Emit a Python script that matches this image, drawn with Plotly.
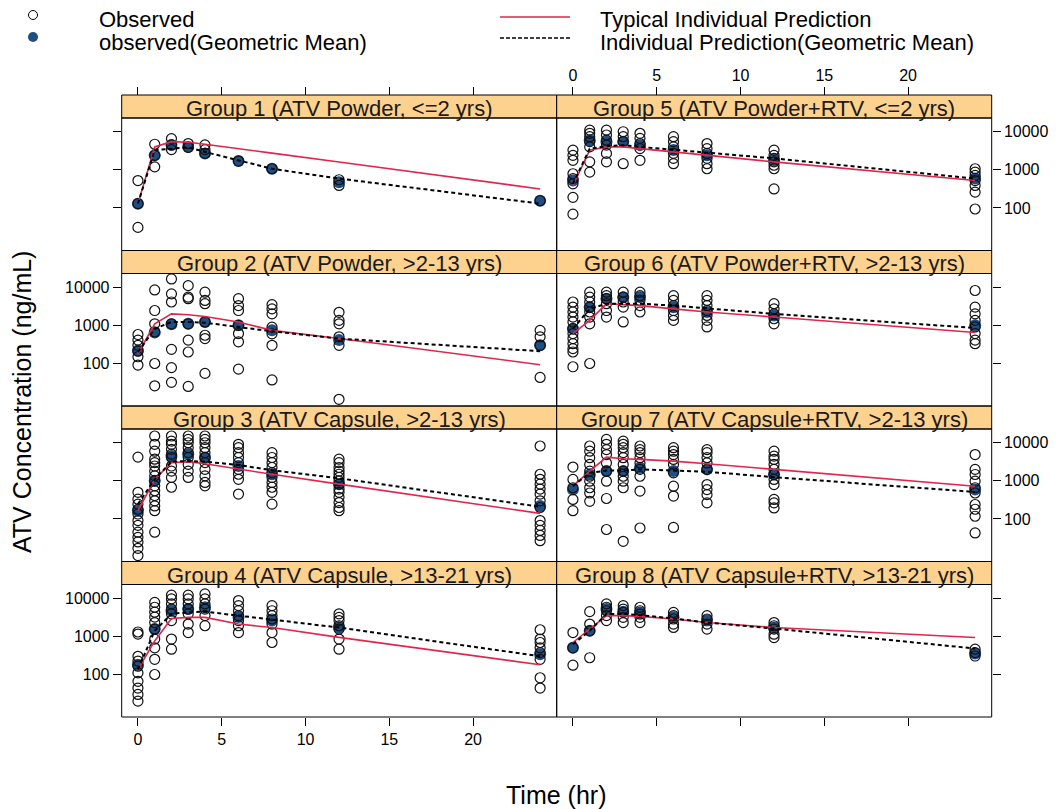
import plotly.graph_objects as go

W, H = 1062, 809
FONT = "Liberation Sans, Arial, sans-serif"

TIME = [0, 1, 2, 3, 4, 6, 8, 12, 24]
X_TICKS = [0, 5, 10, 15, 20]
Y_TICKS = [100, 1000, 10000]
Y_TICK_TEXT = ["100", "1000", "10000"]

TITLES = [
    "Group 1 (ATV Powder, <=2 yrs)",
    "Group 2 (ATV Powder, >2-13 yrs)",
    "Group 3 (ATV Capsule, >2-13 yrs)",
    "Group 4 (ATV Capsule, >13-21 yrs)",
    "Group 5 (ATV Powder+RTV, <=2 yrs)",
    "Group 6 (ATV Powder+RTV, >2-13 yrs)",
    "Group 7 (ATV Capsule+RTV, >2-13 yrs)",
    "Group 8 (ATV Capsule+RTV, >13-21 yrs)",
]

# Observed concentrations (ng/mL), one list per time point
OBS_G1 = [[525, 130, 31], [4700, 2400, 1200], [6600, 4500, 3400], [4900, 3900],
          [4500, 3400, 2700], [1700], [1070], [550, 390], [155]]
OBS_G2 = [[575, 410, 300, 210, 150, 91], [8500, 2450, 1100, 670, 100, 26],
          [16500, 6700, 4100, 1100, 235, 78, 32], [11000, 5500, 5000, 1100, 410, 200, 25],
          [7400, 4500, 3700, 1230, 550, 450, 55], [5000, 3300, 2450, 1000, 610, 370, 71],
          [3500, 2700, 2000, 900, 600, 300, 37], [2200, 1350, 1100, 500, 300, 11.5],
          [740, 500, 300, 43]]
OBS_G3 = [[4200, 500, 330, 245, 180, 135, 91, 68, 45, 33, 25, 17, 11],
          [15000, 9100, 6000, 3700, 3000, 2450, 1800, 1350, 1000, 740, 550, 410, 300, 220, 165, 45],
          [15000, 11000, 9100, 6700, 5000, 4100, 2450, 1800, 1230, 680],
          [15000, 12200, 10000, 7400, 5500, 4100, 2700, 1800, 1230],
          [15000, 12200, 10000, 7400, 5500, 4100, 3000, 2000, 1350, 910, 740],
          [9100, 7400, 5500, 4100, 3000, 2000, 1490, 1100, 450],
          [5500, 4100, 3000, 2240, 1650, 1230, 910, 680, 500, 245],
          [3700, 3000, 2240, 1800, 1490, 1230, 1000, 820, 610, 500, 370, 270, 200, 165],
          [8200, 1490, 1100, 820, 610, 450, 300, 200, 91, 68, 50, 37, 27]]
OBS_G4 = [[1300, 1150, 300, 225, 165, 110, 66, 44, 30, 20],
          [7800, 5800, 4300, 3200, 2300, 1550, 850, 500, 250, 100],
          [12000, 9600, 7100, 5200, 3900, 2600, 850, 460],
          [12000, 9600, 7100, 5200, 3900, 2100, 1260],
          [13000, 9600, 7100, 5200, 3500, 1900],
          [8700, 6400, 4700, 3500, 2600, 1900, 1260],
          [6400, 4700, 3500, 2850, 2100, 1260, 690],
          [3900, 3150, 2600, 1900, 1550, 850, 460],
          [1490, 850, 690, 500, 375, 250, 82, 44]]
OBS_G5 = [[3300, 2400, 1780, 790, 590, 430, 190, 69],
          [11000, 9100, 7400, 5500, 4000, 1620, 870],
          [11000, 8200, 6000, 4450, 2700, 1620],
          [10000, 7400, 5500, 1450],
          [9100, 6700, 4900, 3600, 1780],
          [7400, 5500, 4000, 2700, 2000, 1450],
          [4900, 3600, 2700, 2000, 1450, 1070],
          [3300, 2400, 2000, 1620, 1320, 1070, 316],
          [1070, 870, 715, 525, 390, 260, 94]]
OBS_G6 = [[4100, 3000, 2240, 1650, 1230, 820, 610, 450, 330, 245, 200, 82],
          [7400, 5500, 4100, 3000, 2240, 1650, 1100, 100],
          [7400, 6000, 5000, 3700, 2450, 1650],
          [7400, 5500, 4100, 3000, 1230],
          [7400, 6000, 4500, 3300, 2240],
          [6000, 4500, 3300, 2450, 1820, 1350],
          [6000, 4500, 3300, 2450, 1820, 1350, 910],
          [3700, 2700, 2000, 1490, 1100],
          [8200, 3000, 2000, 1350, 910, 610, 410, 330]]
OBS_G7 = [[2300, 1090, 660, 325, 165],
          [8200, 6000, 4050, 2700, 1800, 1320, 980, 660, 480, 290],
          [12200, 9100, 6600, 4900, 2950, 1800, 980, 345, 53],
          [11000, 9100, 7400, 5500, 4050, 2700, 1800, 1320, 980, 660, 26],
          [8200, 6600, 5500, 4050, 2950, 2000, 1320, 540, 58],
          [7400, 6000, 4900, 3650, 2700, 1620, 725, 400, 60],
          [6600, 5500, 4050, 2950, 2000, 800, 590, 435, 265],
          [6000, 4450, 3650, 2700, 2000, 1470, 1090, 800, 325, 265, 195],
          [4900, 2000, 1470, 980, 660, 480, 240, 180, 118, 43]]
OBS_G8 = [[1260, 500, 175], [4450, 2100, 1400, 275],
          [7100, 5800, 4700, 3500, 2600], [6400, 5200, 4250, 3150, 2300],
          [5800, 4700, 3850, 3150, 2300], [4250, 3500, 2850, 2100, 1710],
          [3500, 2850, 2100, 1550], [2300, 1900, 1550, 1140, 930], [460, 375, 305]]

# Observed geometric means
GEO_G1 = [130, 2400, 4500, 4000, 2700, 1700, 1070, 470, 155]
GEO_G2 = [220, 650, 1070, 1100, 1230, 1000, 740, 410, 300]
GEO_G3 = [165, 1000, 4500, 5000, 4100, 2450, 1490, 820, 220]
GEO_G4 = [180, 1550, 4700, 5200, 5800, 3200, 2600, 1700, 340]
GEO_G5 = [525, 6000, 5500, 5500, 4450, 3300, 2400, 1780, 590]
GEO_G6 = [820, 3000, 5000, 5500, 5500, 3000, 2240, 1820, 1000]
GEO_G7 = [590, 1470, 1800, 1800, 2200, 1800, 2000, 1470, 590]
GEO_G8 = [500, 1400, 5200, 4450, 4250, 3150, 2600, 1710, 355]

# Typical individual prediction
TYP_G1 = [130, 4000, 5500, 5300, 4700, 3550, 2750, 1600, 316]
TYP_G2 = [180, 1100, 2000, 1900, 1700, 1230, 740, 450, 93]
TYP_G3 = [165, 1100, 3000, 3200, 2800, 2000, 1490, 820, 140]
TYP_G4 = [135, 760, 2950, 3150, 3150, 2100, 1700, 940, 180]
TYP_G5 = [390, 3300, 4000, 4000, 3600, 2950, 2400, 1620, 525]
TYP_G6 = [610, 1350, 3700, 3450, 3300, 2700, 2240, 1650, 650]
TYP_G7 = [725, 1800, 4200, 3800, 3650, 3300, 2800, 2000, 725]
TYP_G8 = [690, 1550, 3500, 3500, 3350, 2850, 2300, 1710, 930]

# Individual prediction (geometric mean)
IPR_G1 = [130, 3300, 3600, 3900, 2950, 1780, 1070, 590, 130]
IPR_G2 = [200, 810, 1230, 1230, 1170, 910, 700, 450, 210]
IPR_G3 = [245, 1100, 3200, 3300, 3200, 2600, 1900, 1170, 210]
IPR_G4 = [135, 1400, 3900, 4300, 4450, 3500, 2850, 1700, 300]
IPR_G5 = [430, 3600, 4150, 4450, 4000, 3400, 2800, 2000, 590]
IPR_G6 = [820, 2700, 3700, 3700, 3700, 3300, 2830, 2000, 850]
IPR_G7 = [725, 1620, 1860, 1860, 2000, 1860, 1730, 1250, 510]
IPR_G8 = [620, 1400, 3850, 3850, 3600, 2950, 2300, 1600, 480]

OBS = [OBS_G1, OBS_G2, OBS_G3, OBS_G4, OBS_G5, OBS_G6, OBS_G7, OBS_G8]
GEO = [GEO_G1, GEO_G2, GEO_G3, GEO_G4, GEO_G5, GEO_G6, GEO_G7, GEO_G8]
TYP = [TYP_G1, TYP_G2, TYP_G3, TYP_G4, TYP_G5, TYP_G6, TYP_G7, TYP_G8]
IPR = [IPR_G1, IPR_G2, IPR_G3, IPR_G4, IPR_G5, IPR_G6, IPR_G7, IPR_G8]

# ---- styling / geometry ----
STRIP_FILL = "#FDD18E"
BLUE = "#1F4E85"
RED = "#E0264A"
COL_X = [(121.7, 556.7), (556.7, 991.7)]
ROW_TOP = [95.0, 250.5, 406.0, 561.5]
BLOCK = 155.5
STRIP = 23.0
X_RANGE = [-0.97, 24.99]
Y_RANGE = [0.885, 4.36]


def px(x):
    return x / W


def py(y):
    return 1 - y / H


fig = go.Figure()
layout = dict(
    width=W, height=H, margin=dict(l=0, r=0, t=0, b=0),
    paper_bgcolor="white", plot_bgcolor="white", showlegend=False,
    font=dict(family=FONT, color="black"),
)
shapes = []
annotations = []

for g in range(8):
    k = g + 1
    col, row = g // 4, g % 4
    x0, x1 = COL_X[col]
    st = ROW_TOP[row]
    p_top = st + STRIP
    p_bot = st + BLOCK
    xa = "x" if k == 1 else f"x{k}"
    ya = "y" if k == 1 else f"y{k}"

    xs, ys = [], []
    for t, vals in zip(TIME, OBS[g]):
        for v in vals:
            xs.append(t)
            ys.append(v)

    fig.add_trace(go.Scatter(x=TIME, y=GEO[g], mode="markers", xaxis=xa, yaxis=ya,
                             marker=dict(symbol="circle", size=12, color=BLUE,
                                         line=dict(width=0)), cliponaxis=False))
    fig.add_trace(go.Scatter(x=xs, y=ys, mode="markers", xaxis=xa, yaxis=ya,
                             marker=dict(symbol="circle-open", size=10, color="#111111",
                                         line=dict(width=1.2)), cliponaxis=False))
    fig.add_trace(go.Scatter(x=TIME, y=TYP[g], mode="lines", xaxis=xa, yaxis=ya,
                             line=dict(color=RED, width=1.6)))
    fig.add_trace(go.Scatter(x=TIME, y=IPR[g], mode="lines", xaxis=xa, yaxis=ya,
                             line=dict(color="black", width=2, dash="4px,3px")))

    xkey = "xaxis" if k == 1 else f"xaxis{k}"
    ykey = "yaxis" if k == 1 else f"yaxis{k}"
    xax = dict(domain=[px(x0), px(x1)], range=X_RANGE, anchor=ya,
               tickvals=X_TICKS, showgrid=False, zeroline=False, showline=False,
               tickfont=dict(size=16, family=FONT, color="black"),
               ticklen=8, tickcolor="black", tickwidth=1)
    if row == 3:
        xax.update(side="bottom", ticks="outside", showticklabels=(col == 0))
    elif row == 0:
        xax.update(side="top", ticks="outside", showticklabels=(col == 1),
                   anchor="free", position=py(st))
    else:
        xax.update(ticks="", showticklabels=False)
    layout[xkey] = xax

    yax = dict(domain=[py(p_bot), py(p_top)], type="log", range=Y_RANGE, anchor=xa,
               tickvals=Y_TICKS, ticktext=Y_TICK_TEXT, showgrid=False, zeroline=False,
               showline=False, ticks="outside", ticklen=8, tickcolor="black", tickwidth=1,
               tickfont=dict(size=16, family=FONT, color="black"),
               side="left" if col == 0 else "right")
    if col == 0:
        yax["showticklabels"] = row in (1, 3)
    else:
        yax["showticklabels"] = row in (0, 2)
    layout[ykey] = yax

    # panel frame
    shapes.append(dict(type="rect", xref="paper", yref="paper", x0=px(x0), x1=px(x1),
                       y0=py(p_bot), y1=py(p_top), line=dict(color="black", width=1),
                       fillcolor="rgba(0,0,0,0)", layer="above"))
    # strip
    shapes.append(dict(type="rect", xref="paper", yref="paper", x0=px(x0), x1=px(x1),
                       y0=py(p_top), y1=py(st), line=dict(color="black", width=1),
                       fillcolor=STRIP_FILL, layer="below"))
    annotations.append(dict(text=TITLES[g], xref="paper", yref="paper",
                            x=px((x0 + x1) / 2), y=py(p_top), xanchor="center",
                            yanchor="bottom", yshift=-5, showarrow=False,
                            font=dict(size=22, family=FONT, color="#1a1a1a")))

# axis titles
annotations.append(dict(text="Time (hr)", xref="paper", yref="paper", x=px(556), y=py(795),
                        xanchor="center", yanchor="middle", showarrow=False,
                        font=dict(size=25, family=FONT, color="black")))
annotations.append(dict(text="ATV Concentration (ng/mL)", xref="paper", yref="paper",
                        x=px(22), y=py(402), xanchor="center", yanchor="middle",
                        textangle=-90, showarrow=False,
                        font=dict(size=25, family=FONT, color="black")))

# legend (key drawn manually)
r1, r2 = 4.5, 5.0
shapes.append(dict(type="circle", xref="paper", yref="paper",
                   x0=px(33 - r1), x1=px(33 + r1), y0=py(15 + r1), y1=py(15 - r1),
                   line=dict(color="black", width=1), fillcolor="white"))
shapes.append(dict(type="circle", xref="paper", yref="paper",
                   x0=px(33 - r2), x1=px(33 + r2), y0=py(37 + r2), y1=py(37 - r2),
                   line=dict(color=BLUE, width=0), fillcolor=BLUE))
shapes.append(dict(type="line", xref="paper", yref="paper", x0=px(500), x1=px(570),
                   y0=py(17), y1=py(17), line=dict(color=RED, width=1.6)))
shapes.append(dict(type="line", xref="paper", yref="paper", x0=px(500), x1=px(570),
                   y0=py(38), y1=py(38), line=dict(color="black", width=1.6, dash="4px,2px")))
for txt, x, y in [("Observed", 97, 19), ("observed(Geometric Mean)", 97, 43),
                  ("Typical Individual Prediction", 598, 19),
                  ("Individual Prediction(Geometric Mean)", 598, 43)]:
    annotations.append(dict(text=txt, xref="paper", yref="paper", x=px(x), y=py(y),
                            xanchor="left", yanchor="middle", showarrow=False,
                            font=dict(size=22, family=FONT, color="black")))

layout["shapes"] = shapes
layout["annotations"] = annotations
fig.update_layout(**layout)
fig.write_html(
    "out.html",
    config={"displayModeBar": False},
    post_script="document.body.style.margin='0';document.body.style.overflow='hidden';",
)
